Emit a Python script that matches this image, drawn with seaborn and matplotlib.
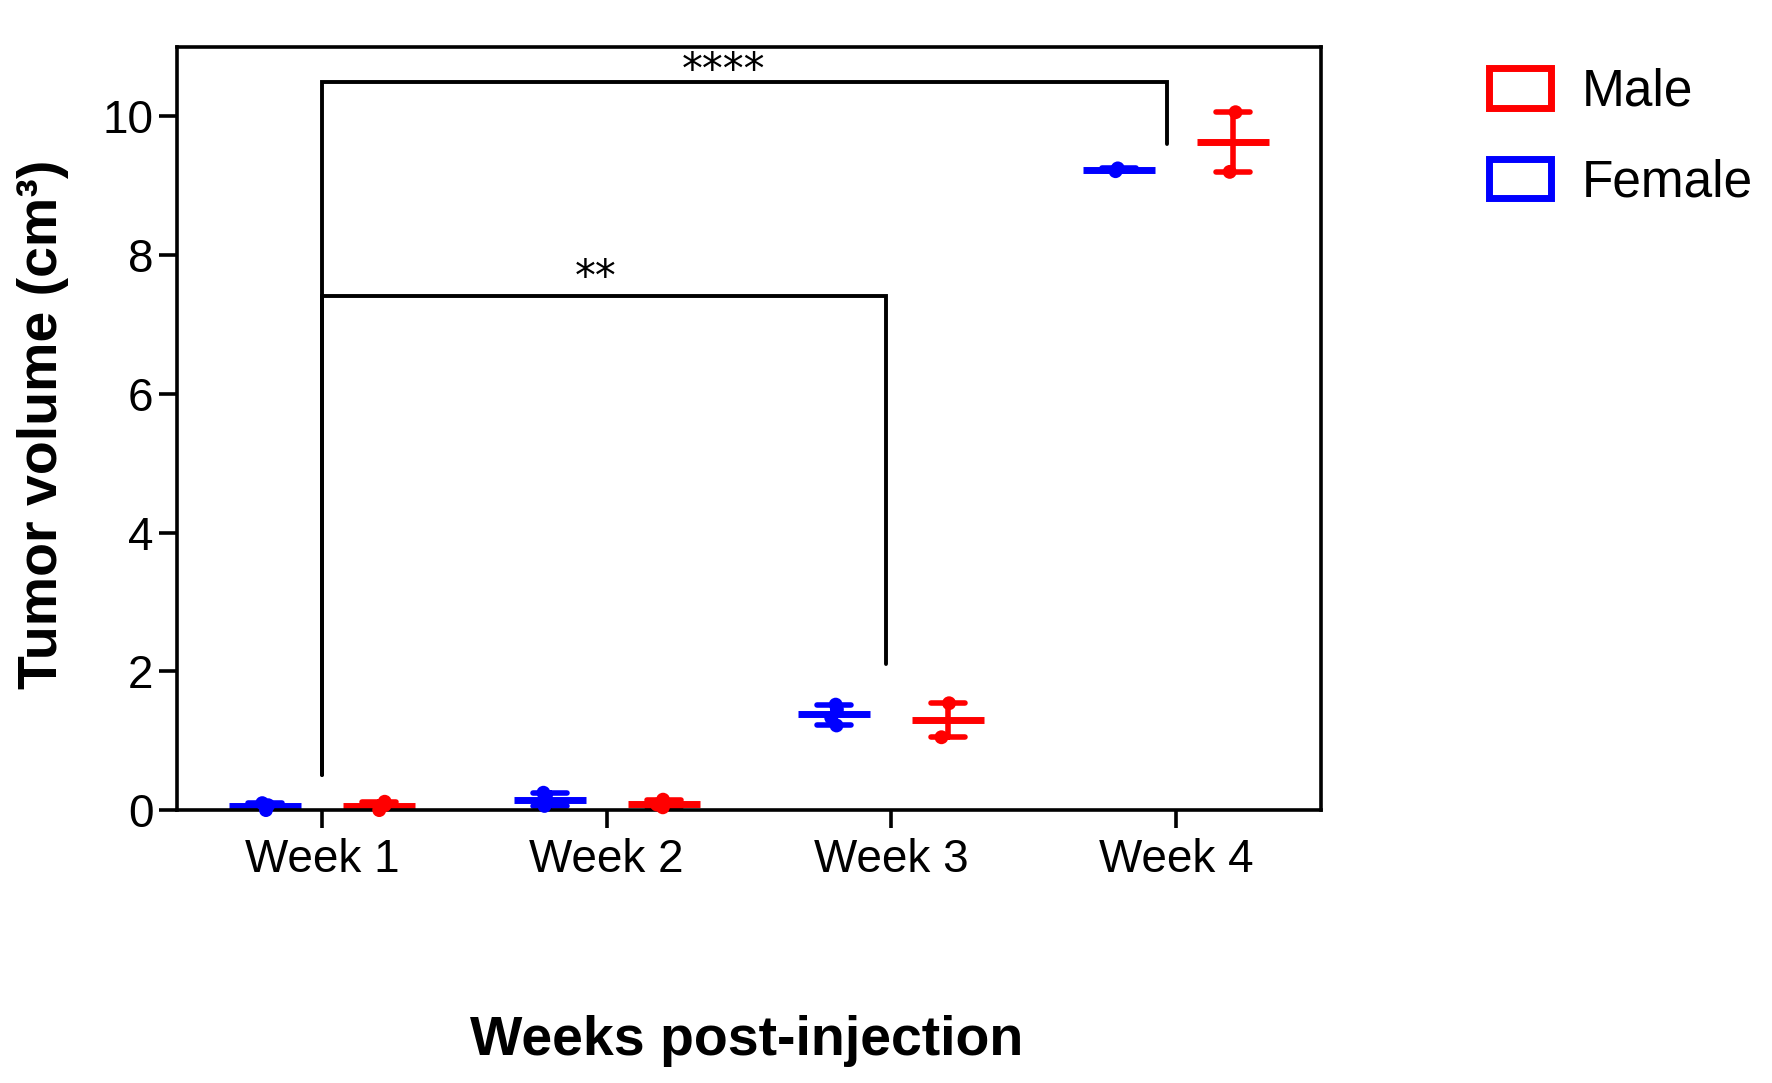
import numpy as np
import pandas as pd
import matplotlib
matplotlib.use('Agg')
import matplotlib.pyplot as plt
from matplotlib.patches import Patch
import seaborn as sns

# --- data (tumor volume, cm3) ---
weeks = ['Week 1', 'Week 2', 'Week 3', 'Week 4']
female_vals = [
    [0.00, 0.07, 0.10],
    [0.06, 0.13, 0.25],
    [1.22, 1.33, 1.45, 1.52],
    [9.21, 9.25],
]
male_vals = [
    [0.00, 0.07, 0.12],
    [0.04, 0.08, 0.15],
    [1.05, 1.54],
    [9.20, 10.06],
]
sex_order = ['Female', 'Male']
palette = {'Female': '#0000ff', 'Male': '#ff0000'}

# significance brackets: (left x, right x, left foot y, right foot y, bar y, label, label x, label y)
brackets = [
    (0, 2.97, 0.5, 9.6, 10.5, '****', 1.41, 10.66),
    (0, 1.98, 0.5, 2.1, 7.41, '**', 0.96, 7.67),
]

rows = []
for w, fv, mv in zip(weeks, female_vals, male_vals):
    for v in fv:
        rows.append({'week': w, 'sex': 'Female', 'volume': v})
    for v in mv:
        rows.append({'week': w, 'sex': 'Male', 'volume': v})
df = pd.DataFrame(rows)

sns.set_theme(style='white')
plt.rcParams['font.family'] = ['Liberation Sans', 'DejaVu Sans']
plt.rcParams['text.color'] = 'black'

fig = plt.figure(figsize=(17.72, 10.83), dpi=100)
ax = fig.add_axes([0.0999, 0.252, 0.6456, 0.7046])

# small horizontal jitter only (positions, not data)
np.random.seed(3)
sns.stripplot(data=df, x='week', y='volume', hue='sex', order=weeks, hue_order=sex_order,
              palette=palette, dodge=True, jitter=0.05, size=10, linewidth=0,
              legend=False, ax=ax, zorder=3, clip_on=False)
sns.pointplot(data=df, x='week', y='volume', hue='sex', order=weeks, hue_order=sex_order,
              palette=palette, dodge=0.4, linestyle='none', markers='_',
              markersize=52, markeredgewidth=5, errorbar=('pi', 100),
              capsize=0.12, err_kws={'linewidth': 4}, legend=False, ax=ax)

for x0, x1, y0, y1, yb, lab, tx, ty in brackets:
    ax.plot([x0, x0, x1, x1], [y0, yb, yb, y1], color='black', lw=2.8,
            solid_joinstyle='miter', zorder=2)
    ax.text(tx, ty, lab, ha='center', va='center', fontsize=30, color='black',
            family=['DejaVu Sans'])

ax.set_xlim(-0.51, 3.51)
ax.set_ylim(0, 11)
ax.set_yticks([0, 2, 4, 6, 8, 10])
for s in ax.spines.values():
    s.set_visible(True)
    s.set_color('black')
    s.set_linewidth(2.6)
ax.tick_params(axis='both', which='major', direction='out', length=13, width=2.6,
               color='black', labelsize=33, labelcolor='black')
ax.tick_params(axis='x', pad=7, bottom=True)
ax.tick_params(axis='y', pad=4, left=True)
ax.grid(False)

ax.set_ylabel('Tumor volume (cm³)', fontsize=40, fontweight='bold', color='black')
ax.set_xlabel('Weeks post-injection', fontsize=40, fontweight='bold', color='black')
ax.yaxis.set_label_coords(-0.094, 0.505)
ax.xaxis.set_label_coords(0.498, -0.268)

handles = [Patch(facecolor='white', edgecolor=palette['Male'], linewidth=5, label='Male'),
           Patch(facecolor='white', edgecolor=palette['Female'], linewidth=5, label='Female')]
fig.legend(handles=handles, loc='upper left', bbox_to_anchor=(1489 / 1772, 1 - 68 / 1083),
           frameon=False, fontsize=37, handlelength=1.2, handleheight=0.8,
           handletextpad=0.6, labelspacing=0.8, borderpad=0, borderaxespad=0,
           labelcolor='black')

fig.savefig('out.png', dpi=100, facecolor='white')
